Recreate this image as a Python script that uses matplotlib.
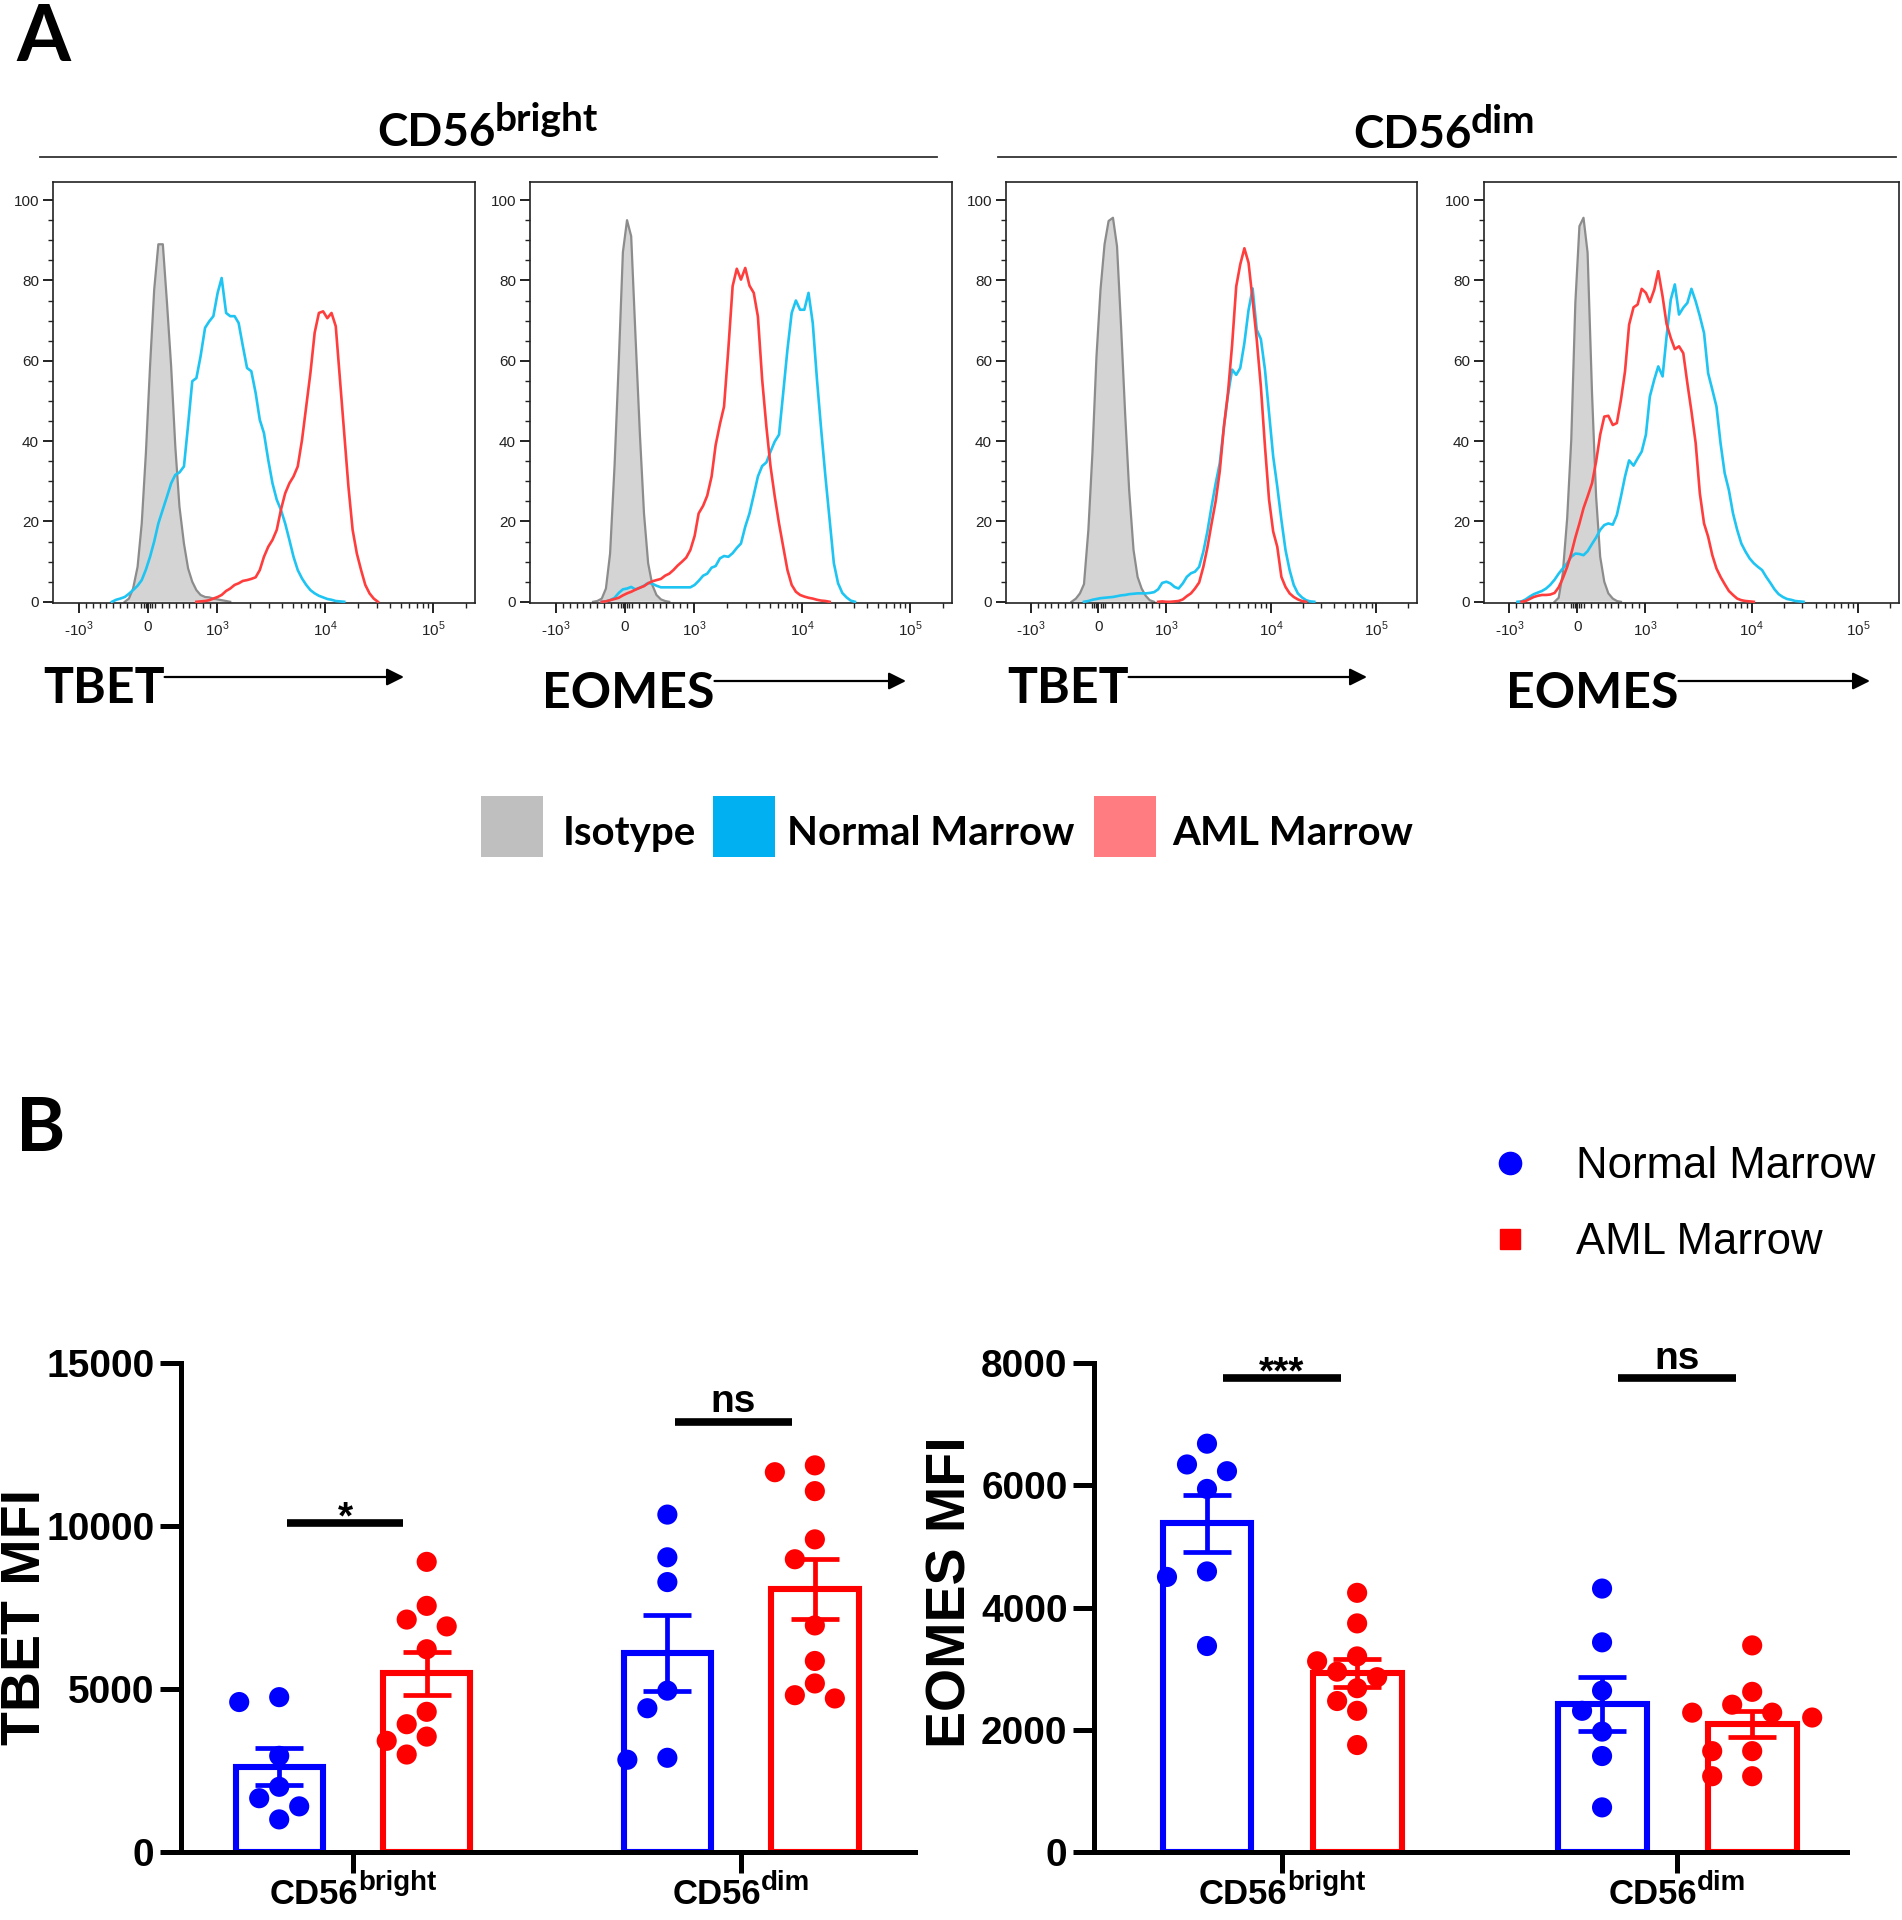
import numpy as np
import matplotlib
matplotlib.use("Agg")
import matplotlib.pyplot as plt
from matplotlib.lines import Line2D
from matplotlib.patches import Rectangle
from matplotlib.ticker import FixedLocator

plt.rcParams['font.family'] = ['Liberation Sans', 'DejaVu Sans']
plt.rcParams['mathtext.fontset'] = 'custom'
plt.rcParams['mathtext.rm'] = 'Liberation Sans'
plt.rcParams['mathtext.bf'] = 'Liberation Sans:bold'

# ---------------- panel A: flow histograms ----------------
# fluorescence intensity (shared x grid), y = % of max
FLUOR = [-880, -820, -760, -700, -640, -580, -520, -460, -400, -335,
         -275, -215, -150, -90, -30, 30, 90, 150, 215, 275,
         335, 395, 455, 520, 580, 640, 700, 760, 825, 885,
         945, 1010, 1100, 1210, 1320, 1450, 1580, 1730, 1890, 2070,
         2270, 2480, 2710, 2970, 3250, 3560, 3890, 4260, 4660, 5090,
         5570, 6100, 6670, 7300, 7990, 8740, 9560, 10460, 11440, 12520,
         13700, 14990, 16400, 17940, 19630, 21480, 23500, 25710, 28130, 30760]

Z10 = [0] * 10

TBET_BRIGHT_ISO = (Z10 +
    [0.8, 3.3, 8.7, 19.5, 37, 58.6, 77.7, 89, 89, 74.4] +
    [58.6, 38.7, 23.7, 14.5, 8.3, 5, 2.9, 1.7, 1.2, 1.1] +
    [0.8, 0.6, 0.4, 0.2, 0, 0, 0, 0, 0, 0] + Z10 + Z10 + Z10)
TBET_BRIGHT_NM = (
    [0, 0, 0, 0, 0, 0, 0, 0.5, 0.8, 1.2] +
    [2.0, 2.9, 4.0, 5.4, 8.0, 11.2, 15.0, 19.5, 23.0, 26.2] +
    [29.5, 31.6, 32.2, 33.7, 44, 54.9, 55.7, 61.1, 68.2, 69.8] +
    [71.1, 76.9, 80.6, 71.9, 71.1, 71.1, 69.4, 63.6, 58.2, 57.4] +
    [52, 45.3, 42, 35.3, 29.5, 25.4, 22.9, 19.5, 15.4, 11.2] +
    [7.9, 5.8, 4.2, 2.9, 2.1, 1.5, 1.1, 0.7, 0.5, 0.2] +
    [0.1, 0, 0, 0, 0, 0, 0, 0, 0, 0])
TBET_BRIGHT_AML = (Z10 + Z10 +
    [0, 0, 0, 0, 0, 0, 0, 0.1, 0.2, 0.4] +
    [0.8, 1.2, 1.7, 2.7, 3.3, 4.2, 4.6, 5.2, 5.4, 5.7] +
    [6.1, 7.9, 11.2, 13.7, 15.4, 17.9, 22.9, 27, 29.5, 31.2] +
    [33.7, 40.3, 48.6, 57, 67, 71.9, 72.3, 70.6, 71.9, 68.6] +
    [55.3, 42, 28.7, 17.9, 12, 7.9, 4.2, 2.1, 0.8, 0])

EOMES_BRIGHT_ISO = (
    [0, 0, 0, 0, 0, 0, 0, 0, 0.2, 0.8] +
    [3.3, 12, 34, 59.4, 87, 95, 91, 67, 42, 22] +
    [9.6, 4.2, 1.7, 0.6, 0.2, 0, 0, 0, 0, 0] + Z10 + Z10 + Z10 + Z10)
EOMES_BRIGHT_NM = (Z10 +
    [0.1, 0.4, 1.0, 2.2, 3.1, 3.3, 3.7, 3.1, 3.5, 4.0] +
    [4.7, 4.5, 4.0, 3.6, 3.6, 3.6, 3.6, 3.6, 3.6, 3.6] +
    [3.6, 4.2, 5.2, 6.5, 7.0, 8.5, 8.9, 10.8, 11.4, 11.2] +
    [12.1, 13.4, 14.5, 18.7, 22, 26.6, 31.2, 33.8, 34.7, 37.4] +
    [39.9, 41.6, 52, 62.8, 71.9, 75, 72.7, 72.7, 76.9, 69.4] +
    [55.3, 42.8, 31.2, 20.4, 9.6, 4.6, 2.2, 1.1, 0.3, 0])
EOMES_BRIGHT_AML = (Z10 +
    [0.1, 0.4, 0.7, 1.0, 1.6, 2.1, 2.5, 3.0, 3.5, 3.9] +
    [4.6, 5.1, 5.4, 5.7, 6.5, 7.0, 7.9, 9.0, 10, 11] +
    [12.9, 16.4, 22, 23.9, 26.4, 31.2, 39, 44.2, 48.6, 62.8] +
    [78.6, 82.9, 80.2, 83.1, 78.7, 76.9, 71, 55.3, 43.6, 33.7] +
    [26.2, 19.5, 13.7, 7.9, 4.2, 2.5, 1.7, 1.3, 1.0, 0.8] +
    [0.5, 0.3, 0.2, 0, 0, 0, 0, 0, 0, 0])

TBET_DIM_ISO = (
    [0, 0, 0, 0, 0, 0, 0, 0, 0, 0.8] +
    [2.1, 4.4, 17.9, 37, 61, 77.7, 89, 94.8, 95.6, 88.5] +
    [68.6, 47, 27.8, 12.9, 6.2, 3.3, 1.5, 0.4, 0, 0] + Z10 + Z10 + Z10 + Z10)
TBET_DIM_NM = (Z10 +
    [0, 0, 0.2, 0.5, 0.7, 0.9, 1.0, 1.1, 1.2, 1.4] +
    [1.6, 1.7, 1.9, 2.0, 2.1, 2.1, 2.1, 2.2, 2.4, 3.1] +
    [4.7, 5.0, 4.6, 3.7, 3.3, 4.6, 6.2, 7.1, 7.5, 8.7] +
    [12.5, 17.5, 23.6, 29.4, 34.5, 43.6, 51.5, 57.8, 56.5, 58.2] +
    [64.4, 72.6, 78, 67.7, 65.4, 57.8, 47, 36.2, 28.7, 20.4] +
    [12.9, 7.9, 4.2, 2.1, 1.1, 0.4, 0.1, 0, 0, 0])
TBET_DIM_AML = (Z10 + Z10 + Z10 +
    [0.1, 0, 0, 0.1, 0.2, 0.6, 1.4, 2.1, 3.3, 4.8] +
    [8.7, 13.5, 19.3, 25, 32.5, 43.6, 52, 64, 78.5, 84] +
    [88, 84.4, 75.2, 65.3, 53.6, 38.7, 25.4, 17.5, 13.7, 6.2] +
    [3.7, 2.1, 1.2, 0.6, 0.2, 0, 0, 0, 0, 0])

EOMES_DIM_ISO = (Z10 +
    [1, 7, 20.8, 40.3, 74.4, 93.5, 95.6, 86.9, 52, 26.2] +
    [11.2, 5, 2.1, 0.8, 0.2, 0, 0, 0, 0, 0] + Z10 + Z10 + Z10 + Z10)
EOMES_DIM_NM = (
    [0, 0.1, 0.6, 1.3, 1.9, 2.3, 2.7, 3.3, 4.2, 5.5] +
    [7, 8.3, 9.6, 11.2, 12, 11.9, 11.6, 12.6, 14.4, 16] +
    [17.9, 19.1, 19.5, 19.2, 21.6, 26.2, 31.2, 35.2, 33.9, 35.7] +
    [37.4, 41.6, 51.1, 55.3, 58.6, 56.1, 66, 75.2, 79, 71.5] +
    [73.2, 74.4, 77.9, 74.8, 71.1, 66.9, 56.9, 52.8, 48.6, 39.5] +
    [32, 27.8, 22, 17.9, 14.5, 12.5, 10.8, 9.6, 8.7, 7.9] +
    [6.2, 4.7, 3.1, 1.9, 1.2, 0.7, 0.5, 0.2, 0.1, 0])
EOMES_DIM_AML = (
    [0, 0, 0.2, 0.7, 1.2, 1.5, 1.7, 1.7, 1.8, 2.2] +
    [3.6, 5.8, 8.7, 12, 16, 19.5, 23.3, 26.2, 29.5, 34.9] +
    [41.6, 46.1, 46.3, 44, 44.5, 50.3, 57.4, 69, 73.3, 74] +
    [77.9, 76.9, 74.6, 77.7, 82.3, 76, 69.2, 65.7, 62.9, 63.6] +
    [61.9, 54.4, 47.4, 39.5, 27, 19.5, 16.2, 11.6, 8.3, 6.2] +
    [4.4, 2.7, 1.7, 0.8, 0.4, 0.2, 0.1, 0, 0, 0] + Z10)

HIST_MARKERS = ['TBET', 'EOMES', 'TBET', 'EOMES']
HEADERS = [('CD56', 'bright'), ('CD56', 'dim')]
LEGEND_A = ['Isotype', 'Normal Marrow', 'AML Marrow']
XTICKS = [-1000, 0, 1000, 10000, 100000]
XTICKLABELS = ['-10$^{3}$', '0', '10$^{3}$', '10$^{4}$', '10$^{5}$']

# ---------------- panel B: MFI per sample ----------------
GROUPS = ['CD56', 'CD56']
GROUP_SUP = ['bright', 'dim']
TBET_NORMAL = [[4750, 4600, 2950, 2000, 1650, 1400, 1000],
               [10350, 9040, 8280, 4950, 4410, 2890, 2830]]
TBET_AML = [[8900, 7550, 7130, 6920, 6220, 4300, 3920, 3540, 3410, 2990],
            [11860, 11650, 11070, 9590, 8980, 6950, 5860, 5170, 4810, 4710]]
EOMES_NORMAL = [[6680, 6340, 6230, 5940, 4590, 4500, 3370],
                [4310, 3430, 2640, 2310, 1970, 1570, 730]]
EOMES_AML = [[4240, 3740, 3200, 3120, 2950, 2860, 2680, 2470, 2310, 1750],
             [3380, 2620, 2410, 2280, 2280, 2200, 1650, 1650, 1240, 1240]]
TBET_SIG = ['*', 'ns']
EOMES_SIG = ['***', 'ns']
LEGEND_B = ['Normal Marrow', 'AML Marrow']

# ---------------- styles ----------------
ISO_FILL, ISO_EDGE = '#d4d4d4', '#8c8c8c'
NM_LINE, AML_LINE = '#1ec4f2', '#ff3d3d'
BLUE, RED = '#0000ff', '#ff0000'

W, H = 1902, 1920
fig = plt.figure(figsize=(W / 100, H / 100), dpi=100)

bg = fig.add_axes([0, 0, 1, 1])
bg.set_xlim(0, W)
bg.set_ylim(H, 0)
bg.axis('off')


def px_axes(left, top, right, bottom):
    return fig.add_axes([left / W, 1 - bottom / H, (right - left) / W, (bottom - top) / H])


def trim(y):
    nz = np.nonzero(np.asarray(y))[0]
    return slice(max(nz[0] - 1, 0), min(nz[-1] + 2, len(y)))


def sup_label(x, y, base, sup, size, sup_size, rise, family, center=False, gap=0):
    """base text + raised superscript, placed in pixel coords of bg"""
    t = bg.text(x, y, base, fontsize=size, fontweight='bold', family=family,
                ha='left', va='baseline')
    r = fig.canvas.get_renderer()
    bb = t.get_window_extent(r)
    s = bg.text(bb.x1 + gap, y - rise, sup, fontsize=sup_size, fontweight='bold',
                family=family, ha='left', va='baseline')
    if center:
        sb = s.get_window_extent(r)
        shift = (bb.x0 + sb.x1) / 2 - x
        t.set_x(x - shift)
        s.set_x(bb.x1 + gap - shift)
    return t, s


# ---- panel A ----
bg.text(16, 61, 'A', fontsize=56, fontweight='bold', family='Lato', va='baseline')

sup_label(377, 146, HEADERS[0][0], HEADERS[0][1], 33, 28, 15, 'Lato', gap=-1)
sup_label(1353, 148, HEADERS[1][0], HEADERS[1][1], 33, 28, 15, 'Lato', gap=-1)
bg.plot([40, 937], [157, 157], color='#333333', lw=1.3)
bg.plot([998, 1896], [157, 157], color='#333333', lw=1.3)

hist_boxes = [(53, 182, 475, 603), (530, 182, 952, 603),
              (1006, 182, 1417, 603), (1484, 182, 1899, 603)]
hist_data = [(TBET_BRIGHT_ISO, TBET_BRIGHT_NM, TBET_BRIGHT_AML),
             (EOMES_BRIGHT_ISO, EOMES_BRIGHT_NM, EOMES_BRIGHT_AML),
             (TBET_DIM_ISO, TBET_DIM_NM, TBET_DIM_AML),
             (EOMES_DIM_ISO, EOMES_DIM_NM, EOMES_DIM_AML)]
xminor = (list(range(-900, 0, 100)) + [-60, -30, 30, 60] + list(range(100, 1000, 100)) +
          list(range(2000, 10000, 1000)) + list(range(20000, 100000, 10000)) + [200000])

fl = np.array(FLUOR, float)
for box, (iso, nm, aml) in zip(hist_boxes, hist_data):
    ax = px_axes(*box)
    ax.set_xscale('symlog', linthresh=1000, linscale=0.5766)
    ax.fill_between(fl, 0, iso, facecolor=ISO_FILL, edgecolor='none', zorder=1)
    s = trim(iso)
    ax.plot(fl[s], np.array(iso)[s], color=ISO_EDGE, lw=1.6, zorder=2)
    s = trim(nm)
    ax.plot(fl[s], np.array(nm)[s], color=NM_LINE, lw=1.9, zorder=3)
    s = trim(aml)
    ax.plot(fl[s], np.array(aml)[s], color=AML_LINE, lw=1.9, zorder=4)
    ax.set_xlim(-1731, 243500)
    ax.set_ylim(-0.3, 104.5)
    ax.set_xticks(XTICKS)
    ax.set_xticklabels(XTICKLABELS)
    ax.xaxis.set_minor_locator(FixedLocator(xminor))
    ax.set_yticks(range(0, 101, 20))
    ax.yaxis.set_minor_locator(FixedLocator(list(range(0, 101, 5))))
    ax.tick_params(which='major', direction='out', length=7, width=1.4,
                   labelsize=11, colors='#222222')
    ax.tick_params(axis='x', which='major', pad=5)
    ax.tick_params(axis='y', which='major', pad=3)
    ax.tick_params(which='minor', direction='out', length=3.5, width=1.0, colors='#222222')
    for sp in ax.spines.values():
        sp.set_linewidth(1.2)
        sp.set_color('#222222')

fig.canvas.draw()

# axis names with arrows under the histograms
label_pos = [(43, 703, 677, 404), (542, 708, 681, 906), (1007, 703, 677, 1367), (1506, 708, 681, 1870)]
for name, (lx, ly, ay, ax_end) in zip(HIST_MARKERS, label_pos):
    t = bg.text(lx, ly, name, fontsize=36, fontweight='bold', family='Lato', va='baseline')
    x0 = t.get_window_extent(fig.canvas.get_renderer()).x1
    bg.annotate('', xy=(ax_end, ay), xytext=(x0, ay),
                arrowprops=dict(arrowstyle='-|>', color='black', lw=1.6,
                                mutation_scale=26, shrinkA=0, shrinkB=0))

# panel A legend
leg_sq = [(481, '#bfbfbf'), (713, '#00b0f0'), (1094, '#ff7c80')]
leg_tx = [563, 787, 1172]
for (sx, col), tx, lab in zip(leg_sq, leg_tx, LEGEND_A):
    bg.add_patch(Rectangle((sx, 796), 62, 61, facecolor=col, edgecolor='none'))
    bg.text(tx, 845, lab, fontsize=29, fontweight='bold', family='Lato', va='baseline')

# ---- panel B ----
bg.text(16, 1151, 'B', fontsize=54, fontweight='bold', family='Lato', va='baseline')

OFF = 0.19
BAR_W = 0.225


def swarm(ax, xc, vals, step=20.0, mind=22.0):
    tr = ax.transData
    inv = tr.inverted()
    cx = tr.transform((xc, 0))[0]
    placed = []
    xs = np.zeros(len(vals))
    for i in np.argsort(-vals, kind='stable'):
        py = tr.transform((xc, vals[i]))[1]
        for k in [0, -1, 1, -2, 2, -3, 3]:
            px = cx + k * step
            if all(np.hypot(px - qx, py - qy) >= mind for qx, qy in placed):
                break
        placed.append((px, py))
        xs[i] = inv.transform((px, py))[0]
    return xs


def bar_panel(box, xlim, ymax, ystep, normal, aml, sig, sig_y, sig_c):
    ax = px_axes(*box)
    ax.set_xlim(*xlim)
    ax.set_ylim(0, ymax)
    for g in range(2):
        for vals, off, col in ((normal[g], -OFF, BLUE), (aml[g], OFF, RED)):
            v = np.asarray(vals, float)
            m = v.mean()
            sem = v.std(ddof=1) / np.sqrt(len(v))
            ax.bar(g + off, m, width=BAR_W, facecolor='white', edgecolor=col,
                   linewidth=4.4, joinstyle='miter', zorder=2)
            ax.errorbar(g + off, m, yerr=sem, fmt='none', ecolor=col, elinewidth=3.4,
                        capsize=17, capthick=3.4, zorder=3)
            ax.scatter(swarm(ax, g + off, v), v, s=210, color=col, edgecolors='none',
                       zorder=4, clip_on=False)
        c = g + sig_c
        ax.plot([c - 0.15, c + 0.15], [sig_y[g], sig_y[g]], color='black', lw=5.5,
                solid_capstyle='butt', clip_on=False)
        dy = -4 if '*' in sig[g] else 7
        ax.annotate(sig[g], xy=(c, sig_y[g]), xytext=(0, dy), textcoords='offset points',
                    ha='center', va='baseline', fontsize=28, fontweight='bold')
    for side in ('top', 'right'):
        ax.spines[side].set_visible(False)
    for side in ('left', 'bottom'):
        ax.spines[side].set_linewidth(3.6)
        ax.spines[side].set_capstyle('projecting')
    ax.set_yticks(np.arange(0, ymax + 1, ystep))
    ax.set_yticklabels([f'{int(t)}' for t in np.arange(0, ymax + 1, ystep)])
    ax.set_xticks([0, 1])
    ax.set_xticklabels(['', ''])
    ax.tick_params(axis='y', length=15, width=3.6, labelsize=28, pad=4)
    ax.tick_params(axis='x', length=15, width=3.6)
    for lab in ax.get_yticklabels():
        lab.set_fontweight('bold')
    # category names under the ticks
    for g in range(2):
        xpix = ax.transData.transform((g, 0))[0]
        sup_label(xpix, 1904, GROUPS[g], GROUP_SUP[g], 25, 20, 14, 'Liberation Sans',
                  center=True, gap=0)
    return ax


bar_panel((181, 1363, 915, 1852), (-0.443, 1.448), 15000, 5000,
          TBET_NORMAL, TBET_AML, TBET_SIG, [10100, 13200], -0.02)
bar_panel((1094, 1363, 1847, 1852), (-0.476, 1.43), 8000, 2000,
          EOMES_NORMAL, EOMES_AML, EOMES_SIG, [7750, 7750], 0.0)

bg.text(26, 1617, 'TBET MFI', rotation=90, ha='center', va='center', fontsize=40, fontweight='bold')
bg.text(952, 1592, 'EOMES MFI', rotation=90, ha='center', va='center', fontsize=40, fontweight='bold')

handles = [Line2D([], [], marker='o', ls='none', color=BLUE, markersize=16),
           Line2D([], [], marker='s', ls='none', color=RED, markersize=14)]
fig.legend(handles, LEGEND_B, loc='upper left', bbox_to_anchor=(1488 / W, 1 - 1146 / H),
           frameon=False, fontsize=31.5, handlelength=1.0, handletextpad=1.0,
           labelspacing=0.8, borderpad=0, borderaxespad=0)

fig.savefig('out.png', dpi=100)
